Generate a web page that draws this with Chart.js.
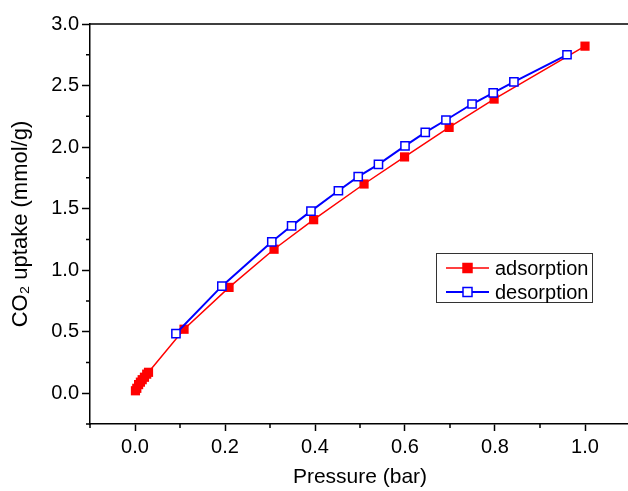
<!DOCTYPE html>
<html>
<head>
<meta charset="utf-8">
<script src="https://cdn.jsdelivr.net/npm/chart.js@4"></script>
<style>
  html, body { margin: 0; padding: 0; background: #fff; overflow: hidden; }
  #wrap { width: 630px; height: 491px; }
</style>
</head>
<body>
<div id="wrap"><canvas id="isotherm"></canvas></div>
<script>
"use strict";

// adsorption branch (filled red squares)
const adsP = [0.001, 0.004, 0.008, 0.012, 0.016, 0.021, 0.026, 0.030, 0.109, 0.209, 0.309, 0.397, 0.509, 0.599, 0.698, 0.798, 1.000];
const adsQ = [0.02, 0.04, 0.07, 0.09, 0.11, 0.13, 0.155, 0.17, 0.52, 0.86, 1.17, 1.41, 1.70, 1.92, 2.16, 2.39, 2.82];

// desorption branch (open blue squares)
const desP = [0.960, 0.842, 0.796, 0.749, 0.691, 0.645, 0.600, 0.541, 0.496, 0.452, 0.391, 0.348, 0.304, 0.193, 0.091];
const desQ = [2.75, 2.53, 2.44, 2.35, 2.22, 2.12, 2.01, 1.86, 1.76, 1.645, 1.48, 1.36, 1.23, 0.87, 0.485];

const seriesNames = ["adsorption", "desorption"];

const xMajor = [0.0, 0.2, 0.4, 0.6, 0.8, 1.0];
const xMinor = [-0.1, 0.1, 0.3, 0.5, 0.7, 0.9];
const yMajor = [0.0, 0.5, 1.0, 1.5, 2.0, 2.5, 3.0];
const yMinor = [-0.25, 0.25, 0.75, 1.25, 1.75, 2.25, 2.75];

const FONT = "'Liberation Sans', Arial, sans-serif";
const RED = "#ff0000", BLUE = "#0000ff";

const toPts = (xs, ys) => xs.map((x, i) => ({ x: x, y: ys[i] }));

// frame top line, minor ticks and the boxed legend
const framePlugin = {
  id: "frame",
  afterDraw(chart) {
    const ctx = chart.ctx;
    const a = chart.chartArea;
    const xs = chart.scales.x, ys = chart.scales.y;
    ctx.save();
    ctx.strokeStyle = "#000";
    ctx.lineWidth = 1.5;
    ctx.beginPath();
    ctx.moveTo(a.left, a.top);
    ctx.lineTo(a.right, a.top);
    xMinor.forEach(v => {
      const px = xs.getPixelForValue(v);
      ctx.moveTo(px, a.bottom); ctx.lineTo(px, a.bottom + 4);
    });
    yMinor.forEach(v => {
      const py = ys.getPixelForValue(v);
      ctx.moveTo(a.left, py); ctx.lineTo(a.left - 4, py);
    });
    ctx.stroke();

    // legend
    const bx = 436, by = 253, bw = 156, bh = 49;
    ctx.fillStyle = "#fff";
    ctx.fillRect(bx, by, bw, bh);
    ctx.strokeStyle = "#333";
    ctx.lineWidth = 1;
    ctx.strokeRect(bx + 0.5, by + 0.5, bw, bh);
    ctx.font = "20px " + FONT;
    ctx.textBaseline = "middle";
    const rows = [
      { name: seriesNames[0], color: RED, fill: RED, lw: 1.5, y: by + 15 },
      { name: seriesNames[1], color: BLUE, fill: "#fff", lw: 2, y: by + 39 }
    ];
    rows.forEach(r => {
      ctx.strokeStyle = r.color;
      ctx.lineWidth = r.lw;
      ctx.beginPath();
      ctx.moveTo(bx + 10, r.y); ctx.lineTo(bx + 53, r.y);
      ctx.stroke();
      ctx.fillStyle = r.fill;
      ctx.fillRect(bx + 27, r.y - 4.5, 9, 9);
      ctx.lineWidth = 1.5;
      ctx.strokeRect(bx + 27, r.y - 4.5, 9, 9);
      ctx.fillStyle = "#000";
      ctx.fillText(r.name, bx + 59, r.y + 1);
    });
    ctx.restore();
  }
};

new Chart(document.getElementById("isotherm"), {
  type: "line",
  data: {
    datasets: [
      {
        label: seriesNames[0], data: toPts(adsP, adsQ), order: 2,
        borderColor: RED, backgroundColor: RED, borderWidth: 1.5,
        pointStyle: "rect", pointRadius: 6.5, pointBorderWidth: 0,
        pointBackgroundColor: RED, pointBorderColor: RED
      },
      {
        label: seriesNames[1], data: toPts(desP, desQ), order: 1,
        borderColor: BLUE, backgroundColor: "#fff", borderWidth: 2,
        pointStyle: "rect", pointRadius: 5.8, pointBorderWidth: 1.5,
        pointBackgroundColor: "#fff", pointBorderColor: BLUE
      }
    ]
  },
  options: {
    responsive: true,
    maintainAspectRatio: false,
    animation: false,
    devicePixelRatio: 1,
    layout: { autoPadding: false, padding: { top: 24, right: 0, left: 0, bottom: 0 } },
    elements: { line: { tension: 0, fill: false } },
    plugins: { legend: { display: false }, tooltip: { enabled: false } },
    scales: {
      x: {
        type: "linear", min: -0.1, max: 1.1,
        afterBuildTicks: s => { s.ticks = xMajor.map(v => ({ value: v })); },
        afterFit: s => { s.height = 67; s.paddingLeft = 0; s.paddingRight = 0; },
        ticks: { color: "#000", font: { family: FONT, size: 20 }, padding: 4,
                 maxRotation: 0, callback: v => v.toFixed(1) },
        grid: { drawOnChartArea: false, tickLength: 7, tickWidth: 1.5, tickColor: "#000" },
        border: { color: "#000", width: 1.5 },
        title: { display: true, text: "Pressure (bar)", color: "#000",
                 font: { family: FONT, size: 21 }, padding: { top: 0, bottom: 1 } }
      },
      y: {
        type: "linear", min: -0.25, max: 3.0,
        afterBuildTicks: s => { s.ticks = yMajor.map(v => ({ value: v })); },
        afterFit: s => { s.width = 90; s.paddingTop = 0; s.paddingBottom = 0; },
        ticks: { color: "#000", font: { family: FONT, size: 20 }, padding: 3,
                 callback: v => v.toFixed(1) },
        grid: { drawOnChartArea: false, tickLength: 8, tickWidth: 1.5, tickColor: "#000" },
        border: { color: "#000", width: 1.5 },
        title: { display: true, text: "CO₂ uptake (mmol/g)", color: "#000",
                 font: { family: FONT, size: 22 }, padding: { top: 8, bottom: 0 } }
      }
    }
  },
  plugins: [framePlugin]
});
</script>
</body>
</html>
